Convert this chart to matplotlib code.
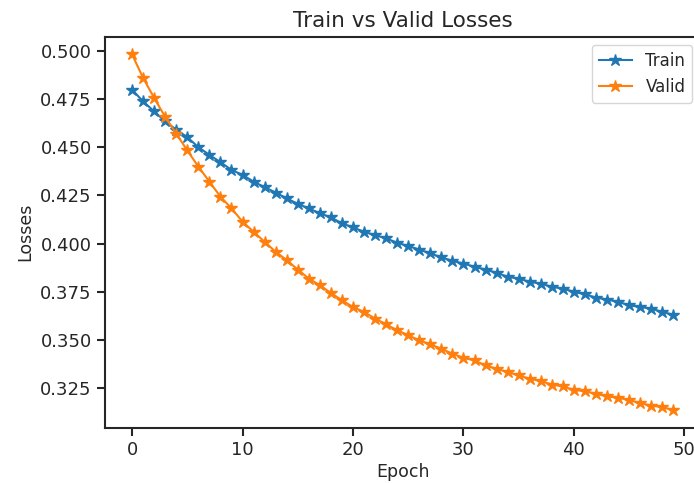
import matplotlib
matplotlib.use("Agg")
import matplotlib.pyplot as plt
import numpy as np

epochs = list(range(50))
train_loss = [0.4800, 0.4739, 0.4687, 0.4635, 0.4592, 0.4553, 0.4501, 0.4461, 0.4423, 0.4383,
              0.4357, 0.4322, 0.4293, 0.4265, 0.4235, 0.4206, 0.4183, 0.4157, 0.4136, 0.4105,
              0.4084, 0.4061, 0.4044, 0.4027, 0.4004, 0.3987, 0.3969, 0.3949, 0.3928, 0.3910,
              0.3896, 0.3879, 0.3865, 0.3848, 0.3827, 0.3818, 0.3801, 0.3792, 0.3775, 0.3766,
              0.3749, 0.3736, 0.3719, 0.3709, 0.3697, 0.3679, 0.3670, 0.3662, 0.3644, 0.3630]
valid_loss = [0.4983, 0.4861, 0.4757, 0.4658, 0.4571, 0.4484, 0.4400, 0.4322, 0.4244, 0.4183,
              0.4114, 0.4061, 0.4009, 0.3957, 0.3914, 0.3865, 0.3818, 0.3783, 0.3743, 0.3705,
              0.3670, 0.3644, 0.3610, 0.3580, 0.3549, 0.3523, 0.3497, 0.3476, 0.3453, 0.3427,
              0.3406, 0.3392, 0.3366, 0.3349, 0.3332, 0.3314, 0.3297, 0.3285, 0.3267, 0.3257,
              0.3239, 0.3232, 0.3219, 0.3205, 0.3198, 0.3187, 0.3170, 0.3158, 0.3149, 0.3135]
series_labels = ["Train", "Valid"]
title = "Train vs Valid Losses"

text_c = "#262626"
plt.rcParams.update({
    "font.family": ["DejaVu Sans"],
    "text.color": text_c,
    "axes.labelcolor": text_c,
    "xtick.color": text_c,
    "ytick.color": text_c,
})

fig = plt.figure(figsize=(6.94, 4.83), dpi=100)
ax = fig.add_axes([105 / 694, (483 - 427.7) / 483, (700.4 - 105) / 694, (427.7 - 36.7) / 483])

ax.plot(epochs, train_loss, marker="*", markersize=9, linewidth=1.5, color="#1f77b4", label=series_labels[0])
ax.plot(epochs, valid_loss, marker="*", markersize=9, linewidth=1.5, color="#ff7f0e", label=series_labels[1])

ax.set_title(title, fontsize=15.5, pad=7)
ax.set_xlabel("Epoch", fontsize=12.5, labelpad=3)
ax.set_ylabel("Losses", fontsize=12.5)
ax.tick_params(labelsize=13, width=1.5, length=6)
for s in ax.spines.values():
    s.set_color(text_c)
    s.set_linewidth(1.5)
ax.set_xticks([0, 10, 20, 30, 40, 50])
ax.set_yticks([0.325, 0.350, 0.375, 0.400, 0.425, 0.450, 0.475, 0.500])
ax.legend(loc="upper right", fontsize=12)

fig.savefig("out.png", dpi=100)
